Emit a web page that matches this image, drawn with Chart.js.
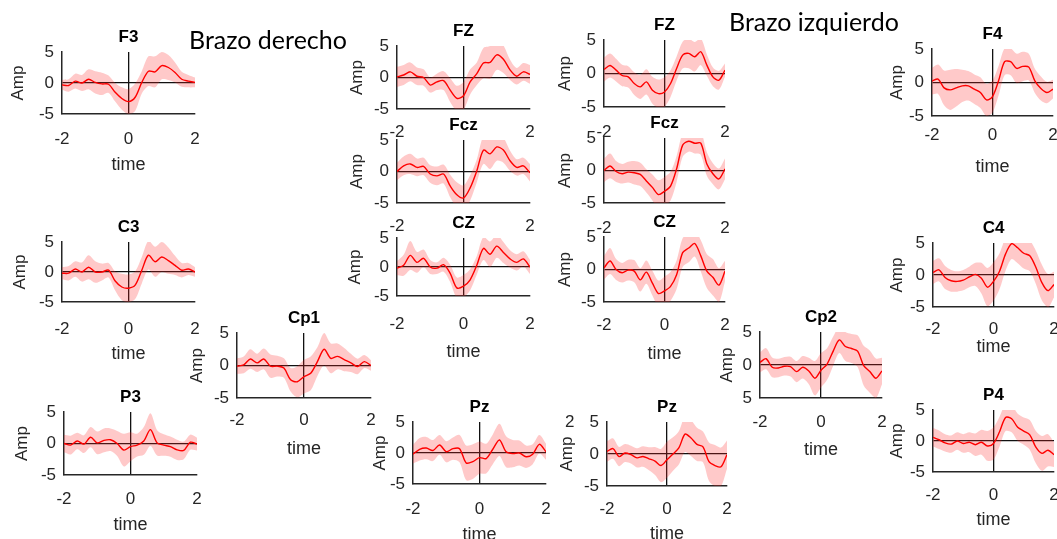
<!DOCTYPE html>
<html>
<head>
<meta charset="utf-8">
<script src="https://cdn.jsdelivr.net/npm/chart.js@4.4.1/dist/chart.umd.min.js"></script>
<style>
body { margin: 0; background: #fff; width: 1057px; height: 539px; overflow: hidden; position: relative; }
canvas { position: absolute; }
.brazo { position: absolute; font-family: Lato, "Noto Sans", sans-serif; font-size: 25px; color: #000; white-space: nowrap; z-index: 50; }
.resto { position: absolute; font-family: "Liberation Sans", Arial, sans-serif; font-size: 17px; color: #262626; z-index: 40; }
</style>
</head>
<body>
<div class="brazo" style="left:189px;top:24px">Brazo derecho</div>
<div class="brazo" style="left:729px;top:6px">Brazo izquierdo</div>
<script>
// eje de tiempo (s), comun a todos los canales
const tiempo = [-2, -1.8, -1.6, -1.4, -1.2, -1, -0.8, -0.6, -0.4, -0.2, 0, 0.2, 0.4, 0.6, 0.8, 1, 1.2, 1.4, 1.6, 1.8, 2];
const ticksX = [-2, 0, 2];
const ticksY = [-5, 0, 5];

// Brazo derecho
const F3 = [-0.3, -0.4, 0.3, 0, 0.6, 0.1, -0.15, -0.2, -1.5, -2.5, -3, -2.3, 0.1, 1.9, 1.8, 2.8, 2.5, 1.7, 0.6, 0.3, 0.1];
const F3_sd = [0.8, 1.0, 1.2, 1.3, 1.6, 1.8, 1.8, 1.4, 1.5, 1.8, 2.0, 2.2, 1.8, 2.4, 2.5, 2.2, 2.0, 1.6, 1.2, 1.0, 0.8];
const C3 = [-0.2, -0.2, 0.5, 0, 0.8, 0, 0, 0.3, -1.5, -2.5, -2.7, -2.2, 0.3, 2.8, 1.7, 2.5, 1.9, 1.1, 0.3, 0.5, 0];
const C3_sd = [1.0, 1.2, 1.3, 1.6, 2.0, 1.8, 1.4, 1.2, 1.6, 2.2, 2.3, 2.3, 2.2, 2.4, 2.5, 2.5, 2.2, 1.6, 1.2, 1.0, 0.8];
const P3 = [0, -0.25, 0.4, -0.1, 1.0, 0.1, 0.5, 0.6, 0, -1.05, -0.5, -0.25, 0.4, 2.2, 0.1, -0.25, -0.5, -1.0, -1.1, 0.2, -0.1];
const P3_sd = [1.4, 1.5, 1.3, 1.4, 1.6, 1.8, 1.9, 1.8, 2.0, 2.6, 2.3, 1.8, 2.2, 2.6, 2.0, 1.7, 1.6, 1.6, 1.4, 1.2, 1.0];
const Cp1 = [-0.1, 0.1, 1.0, 0.4, 1.0, -0.1, -0.1, -0.4, -2.2, -2.5, -1.7, -1.2, 0.6, 2.5, 1.1, 1.4, 0.9, 0.4, -0.15, 0.6, 0];
const Cp1_sd = [1.2, 1.3, 1.5, 1.4, 1.6, 1.8, 1.6, 1.5, 1.8, 2.4, 2.6, 2.6, 2.2, 2.5, 2.3, 2.0, 1.8, 1.4, 1.2, 1.0, 0.8];
const FZ_d = [0.1, 0.4, 0.9, 0.2, 0, -1.2, -0.7, -0.5, -2, -3.3, -2.9, -0.7, 0.6, 2.3, 2.4, 3.6, 2.9, 1.2, 0.2, 0.9, 0.5];
const FZ_d_sd = [1.6, 1.6, 1.5, 1.4, 1.3, 1.2, 1.3, 1.5, 1.9, 2.0, 2.2, 2.0, 1.8, 2.4, 2.6, 2.4, 2.2, 1.6, 1.3, 1.4, 1.5];
const Fcz_d = [0, 0.9, 1.2, 0.65, 0.8, -0.4, -0.7, -0.4, -2.3, -3.7, -4.2, -2.6, 0.1, 3.4, 2.8, 3.9, 3.4, 1.7, 0.65, 0.9, -0.2];
const Fcz_d_sd = [1.4, 1.5, 1.6, 1.4, 1.4, 1.4, 1.5, 1.5, 1.8, 2.0, 2.0, 2.0, 1.8, 2.2, 2.4, 2.2, 2.0, 1.6, 1.3, 1.3, 1.4];
const CZ_d = [-0.2, 0.3, 2.0, 0.8, 1.5, 0, -0.2, 0.4, -1.1, -3.6, -3.3, -2.2, 0.3, 3.2, 2.2, 3.6, 2.5, 1.4, 0.8, 1.4, 0];
const CZ_d_sd = [1.2, 1.8, 2.5, 1.8, 1.5, 1.2, 1.0, 1.2, 1.5, 1.8, 1.9, 1.8, 1.6, 2.0, 2.2, 2.0, 1.8, 1.5, 1.4, 1.3, 1.2];
const Pz_d = [-0.2, 0.6, 0.8, 0.4, 1.3, 0.2, 0.7, 0.7, -1.6, -1.4, -0.75, -0.9, 0.6, 2.1, 0.2, -0.1, 0, -0.6, -0.2, 1.4, 0.2];
const Pz_d_sd = [1.5, 1.8, 1.8, 1.7, 1.6, 1.7, 1.8, 2.2, 2.8, 2.8, 2.6, 2.4, 2.4, 2.6, 2.5, 2.2, 2.0, 1.8, 1.6, 1.5, 1.3];

// Brazo izquierdo
const FZ_i = [0.6, 1.2, 0.5, -0.3, -0.5, -1.5, -2.0, -1.25, -2.5, -3.0, -2.75, -1.5, 0.75, 2.75, 3.0, 2.5, 3.25, 1.25, -0.5, -1.0, 0.5];
const FZ_i_sd = [1.8, 1.8, 1.7, 1.6, 1.6, 1.7, 1.8, 1.9, 2.0, 2.1, 2.2, 2.0, 1.8, 2.0, 2.2, 2.2, 2.0, 1.6, 1.4, 1.4, 1.0];
const Fcz_i = [0, 0.7, -0.15, -0.5, -0.25, -0.35, -0.6, -1.6, -2.6, -3.7, -3.2, -2.4, 0.25, 3.9, 4.5, 4.2, 4.2, 1.0, -0.5, -1.3, 0.25];
const Fcz_i_sd = [1.8, 1.9, 1.6, 1.5, 1.6, 1.8, 1.8, 1.8, 2.0, 2.2, 2.2, 2.2, 2.0, 1.8, 1.6, 1.6, 1.8, 1.8, 1.6, 1.6, 1.6];
const CZ_i = [0.25, 1.3, 0, -0.5, -0.1, -0.25, -1.6, -0.4, -2.1, -3.7, -3.3, -2.6, -0.8, 2.6, 3.3, 4.0, 2.1, -0.25, -1.2, -2.4, -0.25];
const CZ_i_sd = [1.8, 2.0, 1.6, 1.5, 1.6, 1.7, 1.8, 1.8, 1.9, 2.0, 2.2, 2.2, 2.2, 2.2, 2.2, 2.0, 2.4, 2.6, 2.8, 2.6, 1.6];
const Pz_i = [0.4, 0.85, -0.4, 0.15, -0.1, -0.6, -0.4, -0.75, -1.1, -1.8, -0.9, 0, 1.0, 3.1, 2.5, 1.5, 1.1, -1.2, -1.8, -2.0, -0.1];
const Pz_i_sd = [1.6, 1.6, 1.5, 1.4, 1.4, 1.5, 1.6, 1.8, 2.2, 2.6, 2.8, 2.6, 2.6, 2.8, 2.8, 2.6, 2.4, 3.0, 3.2, 3.0, 2.2];
const Cp2 = [0.4, 0.95, -0.35, -0.45, -0.2, -0.25, -1.0, -0.35, -0.9, -2.0, -0.8, 0.15, 2.1, 3.8, 2.8, 2.5, 2.1, -0.1, -1.0, -2.0, -0.9];
const Cp2_sd = [1.5, 1.6, 1.5, 1.4, 1.4, 1.5, 1.6, 1.7, 2.0, 2.6, 2.6, 2.4, 2.2, 2.0, 2.2, 2.2, 2.4, 3.0, 3.2, 3.0, 2.0];
const F4 = [0.2, 0.5, -0.8, -1.1, -0.8, -0.5, -0.5, -1.0, -1.5, -2.6, -2.1, 0.25, 3.1, 3.1, 2.1, 2.4, 2.3, 0.25, -0.9, -1.5, -1.0];
const F4_sd = [2.0, 2.2, 2.6, 3.0, 2.8, 2.4, 2.2, 2.2, 2.3, 2.4, 2.4, 2.2, 2.0, 2.0, 2.2, 2.2, 2.0, 1.8, 1.8, 1.6, 1.4];
const C4 = [0.4, 0.8, -0.4, -0.9, -1.0, -0.8, -0.3, 0.1, -0.5, -1.9, -1.0, 0.6, 3.3, 4.9, 4.25, 3.4, 3.0, 1.2, -1.2, -2.45, -1.5];
const C4_sd = [1.8, 1.8, 1.8, 1.7, 1.6, 1.6, 1.6, 1.8, 2.4, 3.0, 3.0, 2.8, 2.6, 2.4, 2.4, 2.4, 2.4, 2.6, 2.8, 2.6, 2.0];
const P4 = [0.6, 0.2, -0.3, -0.5, 0, -0.4, -0.2, -0.6, -0.2, -0.8, -0.4, 1.5, 3.8, 3.6, 2.2, 1.6, 1.0, -1.0, -2.0, -1.5, -2.2];
const P4_sd = [1.5, 1.5, 1.4, 1.4, 1.4, 1.5, 1.6, 1.8, 2.0, 2.4, 2.6, 2.4, 2.2, 2.2, 2.2, 2.2, 2.4, 2.6, 2.8, 2.6, 2.0];

// posicion del area de datos de cada panel: [izq, arriba, ancho, alto]
// amp: distancia de "Amp" al eje, tx / ty: distancia de los ticks / "time" bajo el eje
const paneles = [
  { titulo: 'F3', media: F3, sd: F3_sd, pos: [62, 52, 133, 62], amp: 44, tx: 23, ty: 49 },
  { titulo: 'C3', media: C3, sd: C3_sd, pos: [62, 242, 133, 60], amp: 42, tx: 25, ty: 50 },
  { titulo: 'P3', media: P3, sd: P3_sd, pos: [64, 412, 133, 63], amp: 42, tx: 22, ty: 48 },
  { titulo: 'Cp1', media: Cp1, sd: Cp1_sd, pos: [237, 333, 134, 65], amp: 40, tx: 20, ty: 49 },
  { titulo: 'FZ', media: FZ_d, sd: FZ_d_sd, pos: [397, 46, 133, 63], amp: 40, tx: 21, ty: 0 },
  { titulo: 'Fcz', media: Fcz_d, sd: Fcz_d_sd, pos: [397, 140, 133, 63], amp: 40, tx: 21, ty: 0 },
  { titulo: 'CZ', media: CZ_d, sd: CZ_d_sd, pos: [397, 238, 133, 58], amp: 42, tx: 26, ty: 54 },
  { titulo: 'Pz', media: Pz_d, sd: Pz_d_sd, pos: [413, 422, 133, 62], amp: 33, tx: 23, ty: 49 },
  { titulo: 'FZ', media: FZ_i, sd: FZ_i_sd, pos: [604, 40, 121, 67], amp: 39, tx: 23, ty: 0 },
  { titulo: 'Fcz', media: Fcz_i, sd: Fcz_i_sd, pos: [604, 138, 121, 65], amp: 39, tx: 23, ty: 0 },
  { titulo: 'CZ', media: CZ_i, sd: CZ_i_sd, pos: [604, 237, 121, 65], amp: 39, tx: 21, ty: 50 },
  { titulo: 'Pz', media: Pz_i, sd: Pz_i_sd, pos: [607, 422, 120, 64], amp: 40, tx: 21, ty: 46 },
  { titulo: 'Cp2', media: Cp2, sd: Cp2_sd, pos: [760, 332, 122, 66], amp: 33, tx: 22, ty: 50, sinSigno: true },
  { titulo: 'F4', media: F4, sd: F4_sd, pos: [932, 49, 121, 67], amp: 35, tx: 17, ty: 49 },
  { titulo: 'C4', media: C4, sd: C4_sd, pos: [933, 243, 121, 64], amp: 36, tx: 20, ty: 38 },
  { titulo: 'P4', media: P4, sd: P4_sd, pos: [933, 410, 121, 62], amp: 36, tx: 21, ty: 46 }
];

const fuente = '"Liberation Sans", Arial, sans-serif';
const gris = '#262626';

// titulo en negrita con fondo blanco (tapa las etiquetas del panel de arriba)
const tituloPanel = {
  id: 'tituloPanel',
  afterDraw(chart, args, opts) {
    const { ctx, chartArea } = chart;
    const cx = (chartArea.left + chartArea.right) / 2;
    const cy = chartArea.top - 15;
    ctx.save();
    ctx.font = 'bold 17px ' + fuente;
    const w = ctx.measureText(opts.texto).width;
    ctx.fillStyle = '#fff';
    ctx.fillRect(cx - w / 2 - 6, cy - 12, w + 12, 26);
    ctx.fillStyle = '#000';
    ctx.textAlign = 'center';
    ctx.textBaseline = 'middle';
    ctx.fillText(opts.texto, cx, cy);
    ctx.restore();
  }
};

function lineaCero(c) {
  return c.tick && c.tick.value === 0 ? '#111' : 'rgba(0,0,0,0)';
}

function crearPanel(p) {
  const [L, T, W, H] = p.pos;
  const arriba = 34, anchoY = 60, altoX = 72, der = 12;
  const cv = document.createElement('canvas');
  cv.width = W + anchoY + der;
  cv.height = H + arriba + altoX;
  cv.style.left = (L - anchoY) + 'px';
  cv.style.top = (T - arriba) + 'px';
  document.body.appendChild(cv);

  const serie = tiempo.map((t, i) => ({ x: t, y: p.media[i] }));
  const sup = tiempo.map((t, i) => ({ x: t, y: p.media[i] + p.sd[i] }));
  const inf = tiempo.map((t, i) => ({ x: t, y: p.media[i] - p.sd[i] }));
  const sinBorde = 'rgba(0,0,0,0)';

  new Chart(cv, {
    type: 'line',
    data: {
      datasets: [
        { data: serie, borderColor: '#ff0000', borderWidth: 1.4, pointRadius: 0, tension: 0.3, fill: false },
        { data: sup, borderColor: sinBorde, borderWidth: 1, pointRadius: 0, tension: 0.3, fill: '+1', backgroundColor: 'rgba(255,40,40,0.25)' },
        { data: inf, borderColor: sinBorde, borderWidth: 1, pointRadius: 0, tension: 0.3, fill: false }
      ]
    },
    options: {
      responsive: false,
      animation: false,
      layout: { padding: { top: arriba, right: der, left: 0, bottom: 0 } },
      plugins: {
        legend: { display: false },
        tooltip: { enabled: false },
        tituloPanel: { texto: p.titulo }
      },
      scales: {
        x: {
          type: 'linear', min: -2, max: 2, z: 1,
          // alto fijo y sin margen lateral extra para que el area de datos no se encoja
          afterFit: s => { s.height = altoX; s.paddingLeft = 0; s.paddingRight = 0; },
          afterBuildTicks: s => { s.ticks = ticksX.map(v => ({ value: v })); },
          ticks: { padding: p.tx - 8, color: gris, font: { size: 17, family: fuente }, callback: v => String(v), maxRotation: 0 },
          grid: { drawTicks: false, color: lineaCero, lineWidth: 1.3 },
          border: { display: true, color: gris, width: 1.5 },
          title: { display: p.ty > 0, text: 'time', color: gris, font: { size: 18, family: fuente }, padding: { top: 0, bottom: Math.max(0, altoX - p.ty - 13) } }
        },
        y: {
          type: 'linear', min: -5, max: 5, z: 1,
          afterFit: s => { s.width = anchoY; },
          afterBuildTicks: s => { s.ticks = ticksY.map(v => ({ value: v })); },
          ticks: { padding: 8, color: gris, font: { size: 17, family: fuente }, callback: v => p.sinSigno ? String(Math.abs(v)) : String(v) },
          grid: { drawTicks: false, color: lineaCero, lineWidth: 1.3 },
          border: { display: true, color: gris, width: 1.5 },
          title: { display: true, text: 'Amp', color: gris, font: { size: 17, family: fuente }, padding: { top: anchoY - p.amp - 10, bottom: 0 } }
        }
      }
    },
    plugins: [tituloPanel]
  });
}

paneles.forEach(crearPanel);
</script>
<div class="resto" style="left:565px;top:412px">2</div>
</body>
</html>
